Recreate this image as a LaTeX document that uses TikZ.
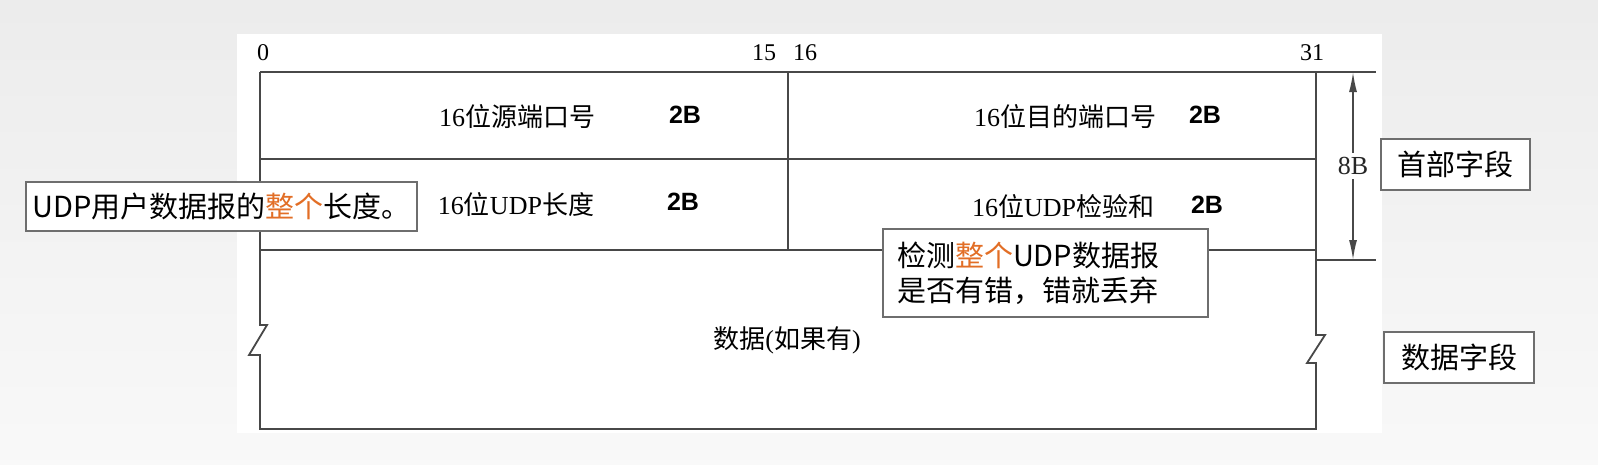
\documentclass[tikz,border=0pt]{standalone}
\usepackage{fontspec}
\setmainfont{Liberation Serif}
\newfontfamily\cjk{Noto Sans CJK SC}
\newfontfamily\bsans{Liberation Sans}
\usetikzlibrary{arrows.meta,positioning}
\definecolor{hilite}{RGB}{226,110,38}
\definecolor{rulegray}{RGB}{72,72,72}
\definecolor{boxgray}{RGB}{110,110,110}
\newcommand{\zh}[1]{{\cjk #1}}

\begin{document}
\begin{tikzpicture}[x=1pt,y=-1pt,
    field/.style={font=\fontsize{26}{30}\selectfont, inner sep=0pt},
    sizeb/.style={font=\bsans\bfseries\fontsize{25}{30}\selectfont, inner sep=0pt},
    bitno/.style={font=\fontsize{24}{28}\selectfont, inner sep=0pt},
    note/.style={draw=boxgray, line width=1.3pt, fill=white,
      font=\cjk\fontsize{29}{35}\selectfont, inner sep=0pt},
    grid/.style={draw=rulegray, line width=1.8pt}]
  \useasboundingbox (0,0) rectangle (1598,464);
  % background and panel
  \shade[top color=gray!15, bottom color=gray!5] (0,0) rectangle (1598,464);
  \fill[white] (237,34) rectangle (1382,433);

  % header lines
  \draw[grid] (260,72) -- (1376,72);
  \draw[grid] (260,159) -- (1316,159);
  \draw[grid] (260,250) -- (1316,250);
  \draw[grid] (1316,260) -- (1376,260);
  \draw[grid] (788,72) -- (788,250);
  % outline with breaks
  \draw[grid] (260,72) -- (260,325) -- (267,325) -- (249,355) -- (260,355)
    -- (260,429) -- (1316,429) -- (1316,363) -- (1307,363) -- (1325,335)
    -- (1316,335) -- (1316,72);

  % bit numbers
  \node[bitno] (b0) at (263,53) {0};
  \node[bitno] (b15) at (764,53) {15};
  \node[bitno] (b16) at (805,53) {16};
  \node[bitno] (b31) at (1312,53) {31};

  % fields
  \node[field] (src) at (517,117) {16\zh{位源端口号}};
  \node[sizeb] (srcb) at (685,115) {2B};
  \node[field] (dst) at (1065,117) {16\zh{位目的端口号}};
  \node[sizeb] (dstb) at (1205,115) {2B};
  \node[field] (len) at (516,205) {16\zh{位}UDP\zh{长度}};
  \node[sizeb] (lenb) at (683,202) {2B};
  \node[field] (chk) at (1063,207) {16\zh{位}UDP\zh{检验和}};
  \node[sizeb] (chkb) at (1207,205) {2B};
  \node[field] (data) at (787,340) {\zh{数据}(\zh{如果有})};

  % header length
  \coordinate (hdtop) at (1353,72);
  \coordinate (hdbot) at (1353,260);
  \draw[rulegray, line width=1.6pt, {Latex[length=20pt,width=8pt]}-{Latex[length=20pt,width=8pt]}]
    (hdtop) -- node[field, fill=white, text=black!85, inner ysep=4pt] (hdlen) {8B} (hdbot);

  % notes
  \node[note, minimum width=391, minimum height=49] (lennote) at (221.5,206.5)
    {UDP用户数据报的\textcolor{hilite}{整个}长度。};
  \node[note, text width=297, inner xsep=14pt, minimum height=88, align=left,
    font=\cjk\fontsize{29}{35}\selectfont] (chknote) at (1045.5,273)
    {检测\textcolor{hilite}{整个}UDP数据报\\是否有错，错就丢弃};
  \node[note, minimum width=149, minimum height=51] (hdr) at (1455.5,164.5) {首部字段};
  \node[note, minimum width=150, minimum height=51] (dat) at (1459,357.5) {数据字段};
\end{tikzpicture}
\end{document}
